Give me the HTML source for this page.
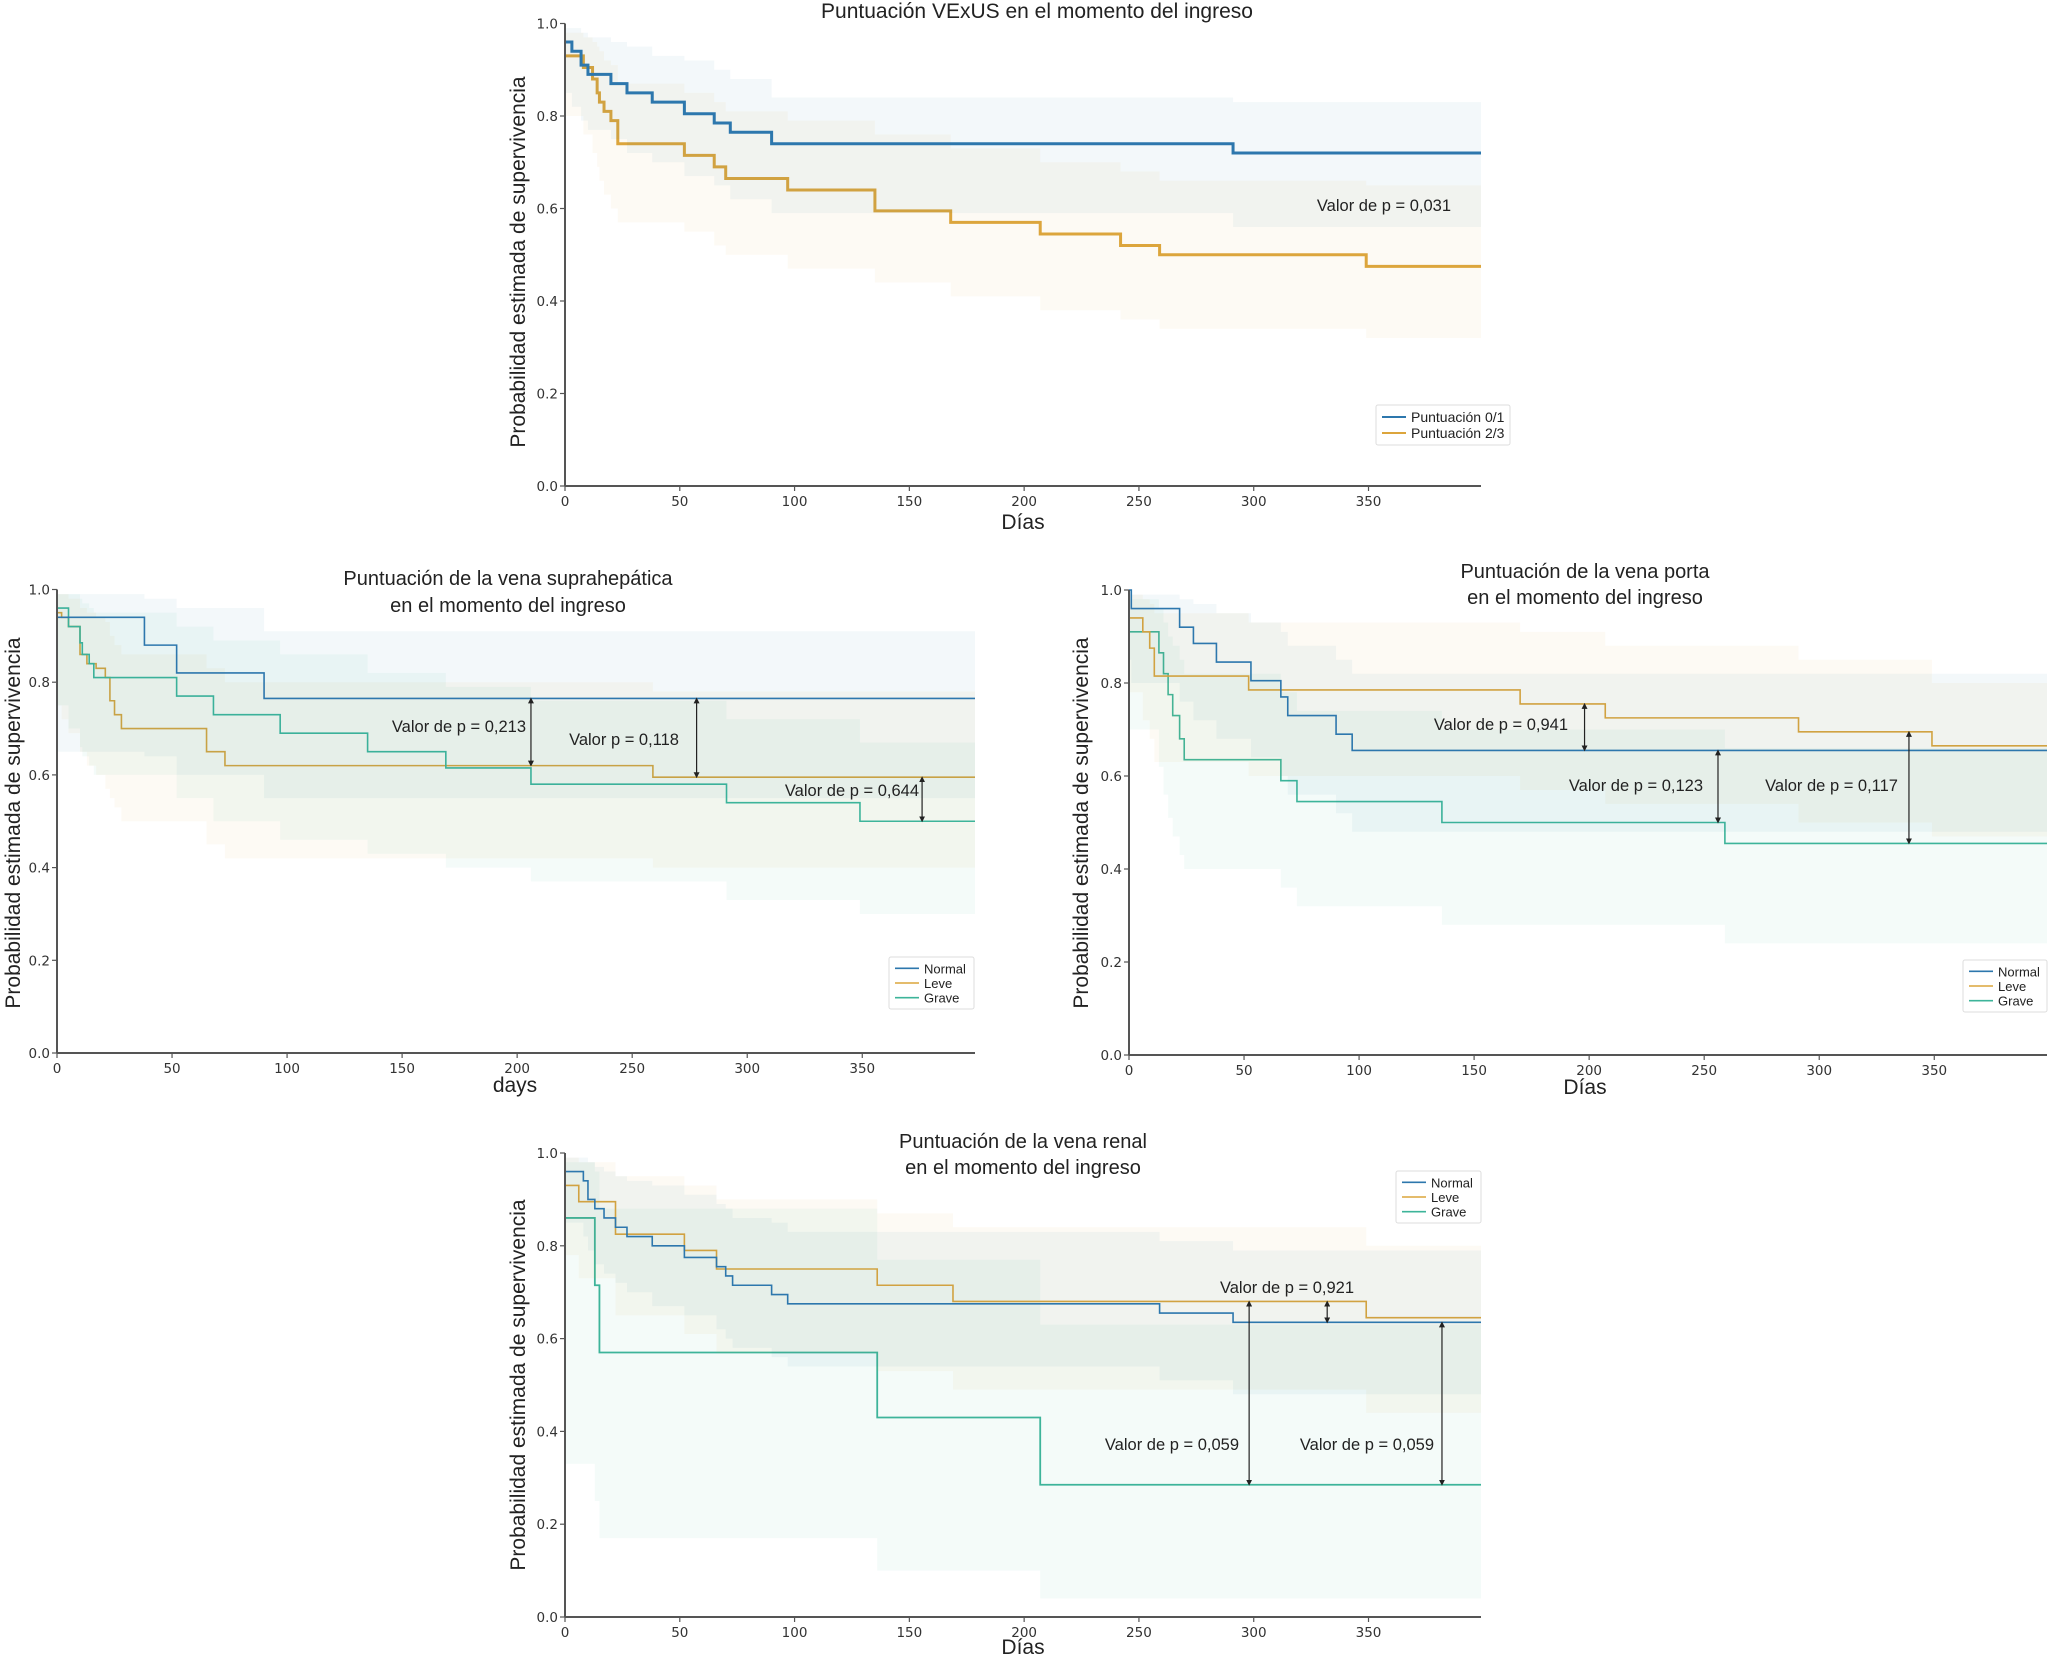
<!DOCTYPE html>
<html><head><meta charset="utf-8">
<style>
html,body{margin:0;padding:0;background:#fff;}
svg{display:block;}
text{font-family:"Liberation Sans Narrow","Liberation Sans",sans-serif;fill:#222;}
.tick{font-family:"DejaVu Sans","Liberation Sans",sans-serif;font-size:13.5px;fill:#333;}
.ylab{font-family:"Liberation Sans",sans-serif;font-size:21px;fill:#222;}
</style></head>
<body>
<svg id="fig" width="2050" height="1662" viewBox="0 0 2050 1662" xmlns="http://www.w3.org/2000/svg">
<defs>
<marker id="arr" viewBox="0 0 10 10" refX="5" refY="5" markerWidth="5" markerHeight="5" orient="auto-start-reverse"><path d="M0,0 L10,5 L0,10 z" fill="#222"/></marker>
</defs>
</svg>
<script>
// ---------- data ----------
const xTicks = [0,50,100,150,200,250,300,350];
const yTicks = [0.0,0.2,0.4,0.6,0.8,1.0];
const yTickLabels = ["0.0","0.2","0.4","0.6","0.8","1.0"];

// Chart 1: VExUS
const c1BlueT  = [0,3,7,10,20,27,38,52,65,72,90,291];
const c1BlueS  = [0.96,0.94,0.91,0.89,0.87,0.85,0.83,0.805,0.785,0.765,0.74,0.72];
const c1BlueHi = [0.99,0.99,0.98,0.97,0.96,0.95,0.93,0.92,0.90,0.88,0.84,0.83];
const c1BlueLo = [0.85,0.82,0.79,0.77,0.75,0.72,0.70,0.67,0.65,0.62,0.59,0.56];
const c1OrT  = [0,8,12,14,15,17,20,23,52,65,70,97,135,168,207,242,259,349];
const c1OrS  = [0.93,0.905,0.88,0.85,0.83,0.81,0.79,0.74,0.715,0.69,0.665,0.64,0.595,0.57,0.545,0.52,0.5,0.475];
const c1OrHi = [0.98,0.97,0.96,0.95,0.94,0.92,0.91,0.87,0.85,0.83,0.81,0.79,0.76,0.73,0.70,0.68,0.66,0.65];
const c1OrLo = [0.80,0.76,0.72,0.69,0.66,0.63,0.60,0.57,0.55,0.52,0.50,0.47,0.44,0.41,0.38,0.36,0.34,0.32];

// Chart 2: suprahepatica
const c2NT  = [0,38,52,90];
const c2NS  = [0.94,0.88,0.82,0.765];
const c2NHi = [0.99,0.98,0.96,0.91];
const c2NLo = [0.65,0.64,0.60,0.55];
const c2LT  = [0,2,5,10,13,17,21,23,25,28,65,73,259];
const c2LS  = [0.95,0.94,0.92,0.86,0.84,0.83,0.81,0.76,0.73,0.70,0.65,0.62,0.595];
const c2LHi = [0.99,0.99,0.98,0.96,0.95,0.94,0.93,0.90,0.88,0.86,0.83,0.80,0.78];
const c2LLo = [0.75,0.72,0.69,0.65,0.62,0.60,0.57,0.55,0.53,0.50,0.45,0.42,0.40];
const c2GT  = [0,5,10,11,14,16,52,68,97,135,169,206,291,349];
const c2GS  = [0.96,0.92,0.885,0.86,0.84,0.81,0.77,0.73,0.69,0.65,0.615,0.58,0.54,0.5];
const c2GHi = [0.99,0.99,0.98,0.97,0.96,0.95,0.92,0.89,0.86,0.82,0.79,0.76,0.72,0.67];
const c2GLo = [0.75,0.70,0.66,0.64,0.62,0.60,0.55,0.50,0.46,0.43,0.40,0.37,0.33,0.30];

// Chart 3: porta
const c3NT  = [0,1,22,28,38,53,66,69,90,97];
const c3NS  = [1.0,0.96,0.92,0.885,0.845,0.805,0.77,0.73,0.69,0.655];
const c3NHi = [1.0,0.99,0.98,0.97,0.95,0.93,0.91,0.88,0.85,0.82];
const c3NLo = [0.85,0.80,0.76,0.72,0.68,0.64,0.60,0.56,0.52,0.48];
const c3LT  = [0,6,9,11,52,170,207,291,349];
const c3LS  = [0.94,0.91,0.875,0.815,0.785,0.755,0.725,0.695,0.665];
const c3LHi = [0.99,0.98,0.97,0.95,0.93,0.91,0.88,0.85,0.80];
const c3LLo = [0.78,0.72,0.68,0.63,0.60,0.57,0.54,0.50,0.47];
const c3GT  = [0,13,15,17,19,22,24,66,73,136,259];
const c3GS  = [0.91,0.865,0.82,0.775,0.73,0.68,0.635,0.59,0.545,0.5,0.455];
const c3GHi = [0.98,0.96,0.93,0.90,0.88,0.85,0.82,0.78,0.74,0.70,0.66];
const c3GLo = [0.70,0.62,0.56,0.51,0.47,0.43,0.40,0.36,0.32,0.28,0.24];

// Chart 4: renal
const c4NT  = [0,8,10,13,17,22,27,38,52,66,70,73,90,97,259,291];
const c4NS  = [0.96,0.94,0.90,0.88,0.86,0.84,0.82,0.80,0.775,0.755,0.735,0.715,0.695,0.675,0.655,0.635];
const c4NHi = [0.99,0.99,0.98,0.97,0.96,0.95,0.94,0.93,0.91,0.89,0.88,0.86,0.85,0.83,0.81,0.79];
const c4NLo = [0.85,0.82,0.79,0.76,0.74,0.72,0.70,0.67,0.65,0.62,0.60,0.58,0.56,0.54,0.51,0.48];
const c4LT  = [0,6,22,52,66,136,169,349];
const c4LS  = [0.93,0.895,0.825,0.79,0.75,0.715,0.68,0.645];
const c4LHi = [0.99,0.98,0.95,0.93,0.90,0.87,0.84,0.80];
const c4LLo = [0.78,0.73,0.65,0.61,0.57,0.53,0.49,0.44];
const c4GT  = [0,13,15,136,207];
const c4GS  = [0.86,0.715,0.57,0.43,0.285];
const c4GHi = [0.98,0.96,0.88,0.77,0.63];
const c4GLo = [0.33,0.25,0.17,0.10,0.04];

// ---------- drawing ----------
const NS = "http://www.w3.org/2000/svg";
const svg = document.getElementById('fig');
const BLUE="#2d77ad", ORANGE="#dca53c", GREEN="#3db49a";

function mk(tag, attrs, parent){
  const e=document.createElementNS(NS,tag);
  for(const k in attrs) e.setAttribute(k,attrs[k]);
  (parent||svg).appendChild(e); return e;
}
function makeAxes(x0,y0,y1,xEnd){
  const xs=d=>x0+(d/50)*((xEnd-x0)/ (399/50));
  const ys=v=>y0-(y0-y1)*v;
  return {xs,ys,x0,y0,y1,xEnd};
}
function drawAxes(g,ax){
  const line=mk('line',{x1:ax.x0,y1:ax.y0,x2:ax.xEnd,y2:ax.y0,stroke:'#555','stroke-width':2},g);
   
  const yl=mk('line',{x1:ax.x0,y1:ax.y0,x2:ax.x0,y2:ax.y1,stroke:'#555','stroke-width':2},g);
   
  xTicks.forEach(t=>{
    const x=ax.xs(t);
    mk('line',{x1:x,y1:ax.y0,x2:x,y2:ax.y0+5,stroke:'#555','stroke-width':1.2},g);
    const tx=mk('text',{x:x,y:ax.y0+20,'text-anchor':'middle',class:'tick'},g);
    tx.textContent=t;
     
  });
  yTicks.forEach((v,i)=>{
    const y=ax.ys(v);
    mk('line',{x1:ax.x0-5,y1:y,x2:ax.x0,y2:y,stroke:'#555','stroke-width':1.2},g);
    const tx=mk('text',{x:ax.x0-7,y:y+5,'text-anchor':'end',class:'tick'},g);
    tx.textContent=yTickLabels[i];
     
  });
}
function stepPath(ax,T,S){
  let d='';
  for(let i=0;i<T.length;i++){
    const x=ax.xs(T[i]), y=ax.ys(S[i]);
    if(i===0) d+='M'+x+','+y; else d+=' H'+x+' V'+y;
  }
  d+=' H'+ax.xEnd; return d;
}
function bandPath(ax,T,H,L){
  let d='';
  for(let i=0;i<T.length;i++){
    const x=ax.xs(T[i]);
    if(i===0) d+='M'+x+','+ax.ys(H[i]); else d+=' H'+x+' V'+ax.ys(H[i]);
  }
  d+=' H'+ax.xEnd+' V'+ax.ys(L[L.length-1]);
  for(let i=T.length-1;i>=0;i--){
    const xp=ax.xs(T[i]);
    d+=' H'+xp; if(i>0) d+=' V'+ax.ys(L[i-1]);
  }
  return d+' Z';
}
function series(g,ax,T,S,H,L,color,w,name){
  const b=mk('path',{d:bandPath(ax,T,H,L),fill:color,'fill-opacity':0.055,stroke:'none'},g);
   
  const p=mk('path',{d:stepPath(ax,T,S),fill:'none',stroke:color,'stroke-width':w},g);
   
}
function label(g,x,y,txt,size,anchor,name,cls){
  const t=mk('text',{x:x,y:y,'font-size':size,'text-anchor':anchor||'middle'},g);
  if(cls) t.setAttribute('class',cls);
  t.textContent=txt;
   
  return t;
}
function ylabel(g,x,y,txt){
  const t=mk('text',{x:0,y:0,'text-anchor':'middle',class:'ylab',transform:'translate('+x+','+y+') rotate(-90)'},g);
  t.textContent=txt;
   
}
function pArrow(g,ax,day,v1,v2,txt,tx,ty,anchor){
  const x=ax.xs(day);
  const a=mk('line',{x1:x,y1:ax.ys(v1)+2,x2:x,y2:ax.ys(v2)-2,stroke:'#222','stroke-width':1.2,'marker-start':'url(#arr)','marker-end':'url(#arr)'},g);
   
  label(g,tx,ty,txt,16.5,anchor||'end','p-value-label');
}
function legend(g,x,y,w,h,items,lw,fs){
  const r=mk('rect',{x:x,y:y,width:w,height:h,fill:'#fff',stroke:'#ddd','stroke-width':1,rx:2},g);
   
  const step=(h-8)/items.length;
  items.forEach((it,i)=>{
    const cy=y+4+step*(i+0.5);
    const l=mk('line',{x1:x+6,y1:cy,x2:x+30,y2:cy,stroke:it[1],'stroke-width':lw},g);
     
    label(g,x+35,cy+5,it[0],fs,'start','legend-entry');
  });
}

// Chart 1
(function(){
  const g=mk('g',{});  
  const ax=makeAxes(565,486,23.5,1481);
  series(g,ax,c1OrT,c1OrS,c1OrHi,c1OrLo,ORANGE,3,'puntuacion-2-3');
  series(g,ax,c1BlueT,c1BlueS,c1BlueHi,c1BlueLo,BLUE,3,'puntuacion-0-1');
  drawAxes(g,ax);
  label(g,1037,18,'Puntuación VExUS en el momento del ingreso',21,'middle','chart-title');
  ylabel(g,525,262,'Probabilidad estimada de supervivencia');
  label(g,1023,529,'Días',21,'middle','x-axis-title');
  label(g,1451,211,'Valor de p = 0,031',16.5,'end','p-value-label');
  legend(g,1376,405,134,40,[['Puntuación 0/1',BLUE],['Puntuación 2/3',ORANGE]],2,14);
})();
// Chart 2
(function(){
  const g=mk('g',{});  
  const ax=makeAxes(57,1053,589.5,975);
  series(g,ax,c2LT,c2LS,c2LHi,c2LLo,ORANGE,1.6,'leve');
  series(g,ax,c2GT,c2GS,c2GHi,c2GLo,GREEN,1.6,'grave');
  series(g,ax,c2NT,c2NS,c2NHi,c2NLo,BLUE,1.6,'normal');
  drawAxes(g,ax);
  label(g,508,585,'Puntuación de la vena suprahepática',20,'middle','chart-title');
  label(g,508,612,'en el momento del ingreso',20,'middle','chart-subtitle');
  ylabel(g,20,823,'Probabilidad estimada de supervivencia');
  label(g,515,1092,'days',21,'middle','x-axis-title');
  pArrow(g,ax,206,0.765,0.62,'Valor de p = 0,213',526,732);
  pArrow(g,ax,278,0.765,0.595,'Valor p = 0,118',679,745);
  pArrow(g,ax,376,0.595,0.5,'Valor de p = 0,644',919,796);
  legend(g,889,957,85,52,[['Normal',BLUE],['Leve',ORANGE],['Grave',GREEN]],1.6,13);
})();
// Chart 3
(function(){
  const g=mk('g',{});  
  const ax=makeAxes(1129,1055,590,2047);
  series(g,ax,c3GT,c3GS,c3GHi,c3GLo,GREEN,1.6,'grave');
  series(g,ax,c3LT,c3LS,c3LHi,c3LLo,ORANGE,1.6,'leve');
  series(g,ax,c3NT,c3NS,c3NHi,c3NLo,BLUE,1.6,'normal');
  drawAxes(g,ax);
  label(g,1585,578,'Puntuación de la vena porta',20,'middle','chart-title');
  label(g,1585,604,'en el momento del ingreso',20,'middle','chart-subtitle');
  ylabel(g,1088,823,'Probabilidad estimada de supervivencia');
  label(g,1585,1094,'Días',21,'middle','x-axis-title');
  pArrow(g,ax,198,0.755,0.655,'Valor de p = 0,941',1568,730);
  pArrow(g,ax,256,0.655,0.5,'Valor de p = 0,123',1703,791);
  pArrow(g,ax,339,0.695,0.455,'Valor de p = 0,117',1898,791);
  legend(g,1963,960,84,52,[['Normal',BLUE],['Leve',ORANGE],['Grave',GREEN]],1.6,13);
})();
// Chart 4
(function(){
  const g=mk('g',{});  
  const ax=makeAxes(565,1617,1153,1481);
  series(g,ax,c4GT,c4GS,c4GHi,c4GLo,GREEN,1.8,'grave');
  series(g,ax,c4LT,c4LS,c4LHi,c4LLo,ORANGE,1.6,'leve');
  series(g,ax,c4NT,c4NS,c4NHi,c4NLo,BLUE,1.6,'normal');
  drawAxes(g,ax);
  label(g,1023,1148,'Puntuación de la vena renal',20,'middle','chart-title');
  label(g,1023,1174,'en el momento del ingreso',20,'middle','chart-subtitle');
  ylabel(g,525,1385,'Probabilidad estimada de supervivencia');
  label(g,1023,1654,'Días',21,'middle','x-axis-title');
  pArrow(g,ax,298,0.68,0.285,'Valor de p = 0,059',1239,1450);
  pArrow(g,ax,332,0.68,0.635,'Valor de p = 0,921',1287,1293,'middle');
  pArrow(g,ax,382,0.635,0.285,'Valor de p = 0,059',1434,1450);
  legend(g,1396,1171,85,52,[['Normal',BLUE],['Leve',ORANGE],['Grave',GREEN]],1.6,13);
})();
</script>
</body></html>
